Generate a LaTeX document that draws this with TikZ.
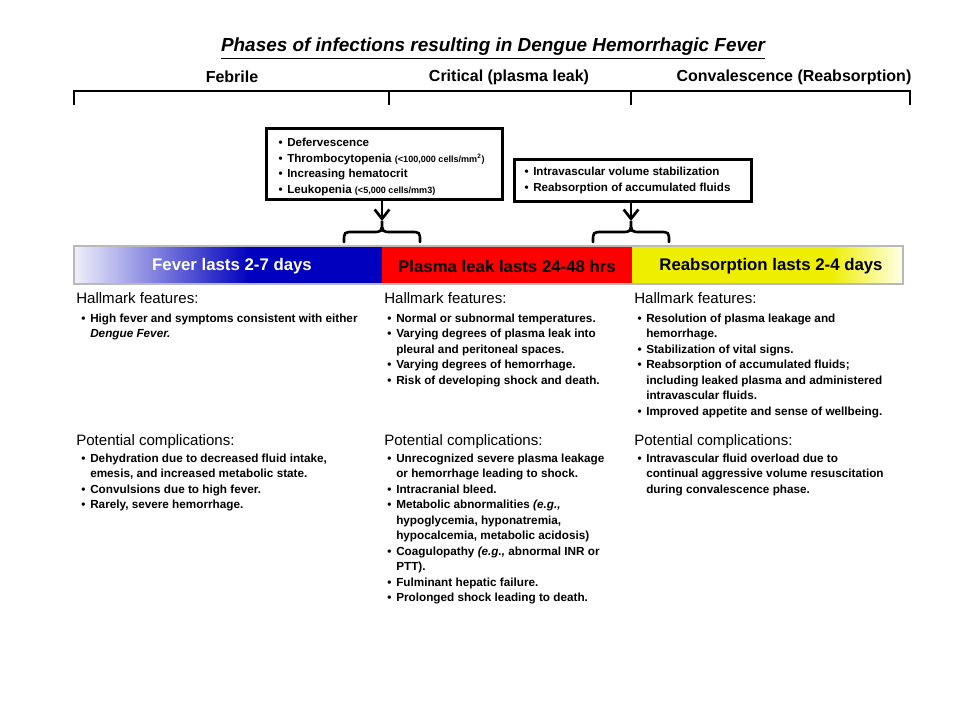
\documentclass[tikz,border=0pt]{standalone}
\usepackage{fontspec}
\setmainfont{Liberation Sans}
\usetikzlibrary{arrows.meta}
\definecolor{barblue}{RGB}{0,0,190}
\definecolor{barred}{RGB}{255,0,0}
\definecolor{baryellow}{RGB}{238,238,0}
\definecolor{barlight}{RGB}{255,255,235}
\newcommand{\bul}{\makebox[0pt][r]{\textbullet\hspace{3.5pt}}}
\newcommand{\smallnote}[1]{{\fontsize{6.8}{8}\selectfont #1}}
\newcommand{\collines}[5][txt]{\foreach \t [count=\i] in {#5} {\node[#1] (#2\i) at (#3,{#4+15.5*(\i-1)}) {\t};}}
\tikzset{
 hdr/.style={font=\fontsize{11.3}{13}\selectfont, anchor=base west, inner sep=0},
 txt/.style={font=\bfseries\fontsize{8.8}{11}\selectfont, anchor=base west, inner sep=0},
 boxtxt/.style={font=\bfseries\fontsize{8.7}{11}\selectfont, anchor=base west, inner sep=0},
 phase/.style={font=\bfseries\fontsize{12}{14}\selectfont, inner sep=0},
 bartxt/.style={font=\bfseries\fontsize{12.6}{14}\selectfont, inner sep=0},
 ttl/.style={font=\bfseries\itshape\fontsize{14.2}{16}\selectfont, inner sep=0, anchor=base},
 heavy/.style={line width=2.2pt},
 boxed/.style={draw, line width=2.2pt, anchor=north west, inner sep=0},
 arr/.style={line width=2pt, -{Straight Barb[length=7pt,width=11pt,line width=2pt]}},
 curly/.pic={\draw[line width=2pt, line cap=round] (-38,21) .. controls (-38,11) .. (-28,11) -- (-10,11) .. controls (0,11) .. (0,0) .. controls (0,11) .. (10,11) -- (28,11) .. controls (38,11) .. (38,21);},
}
\begin{document}
\begin{tikzpicture}[x=0.75pt,y=-0.75pt]
\useasboundingbox (0,0) rectangle (960,720);
\fill[white] (0,0) rectangle (960,720);

% title
\node[ttl] (title) at (493,52) {\underline{Phases of infections resulting in Dengue Hemorrhagic Fever}};

% phase labels
\node[phase] (ph1) at (232,77) {Febrile};
\node[phase] (ph2) at (509,77) {Critical (plasma leak)};
\node[phase] (ph3) at (794,77) {Convalescence (Reabsorption)};

% bracket
\draw[heavy] (74,105) -- (74,91) -- (910,91) -- (910,105);
\draw[heavy] (389,91) -- (389,105);
\draw[heavy] (631,91) -- (631,105);

% boxes
\node[boxed, minimum width=177pt, minimum height=53pt] (box1) at (265,127) {};
\collines[boxtxt]{bx}{287}{147}{{\bul Defervescence},{\bul Thrombocytopenia \smallnote{(<100,000 cells/mm\textsuperscript{2})}},{\bul Increasing hematocrit},{\bul Leukopenia \smallnote{(<5,000 cells/mm3)}}}
\node[boxed, minimum width=177.75pt, minimum height=31.5pt] (box2) at (513,158) {};
\collines[boxtxt]{by}{533}{176}{{\bul Intravascular volume stabilization},{\bul Reabsorption of accumulated fluids}}

% arrows and braces
\coordinate (t1) at (382,221);
\coordinate (t2) at (631,221);
\draw[arr] (box1.south -| t1) -- (t1);
\draw[arr] (box2.south -| t2) -- (t2);
\pic at (t1) {curly};
\pic at (t2) {curly};

% colour bar
\shade[left color=barblue!6, right color=barblue] (74,246) rectangle (250,284);
\fill[barblue] (249,246) rectangle (382,284);
\fill[barred] (382,246) rectangle (632,284);
\fill[baryellow] (632,246) rectangle (831,284);
\shade[left color=baryellow, right color=barlight] (830,246) rectangle (903,284);
\draw[gray!55, line width=1pt] (74,246) rectangle (903,284);
\node[bartxt, text=white] (bar1) at (232,266) {Fever lasts 2-7 days};
\node[bartxt] (bar2) at (507,266) {Plasma leak lasts 24-48 hrs};
\node[bartxt] (bar3) at (771,266) {Reabsorption lasts 2-4 days};

% column 1
\node[hdr] (h1) at (76,303) {Hallmark features:};
\collines{a}{90}{322}{{\bul High fever and symptoms consistent with either},{\textit{Dengue Fever.}}}
\node[hdr] (p1) at (76,445) {Potential complications:};
\collines{b}{90}{462}{{\bul Dehydration due to decreased fluid intake,},{emesis, and increased metabolic state.},{\bul Convulsions due to high fever.},{\bul Rarely, severe hemorrhage.}}

% column 2
\node[hdr] (h2) at (384,303) {Hallmark features:};
\collines{c}{396}{322}{{\bul Normal or subnormal temperatures.},{\bul Varying degrees of plasma leak into},{pleural and peritoneal spaces.},{\bul Varying degrees of hemorrhage.},{\bul Risk of developing shock and death.}}
\node[hdr] (p2) at (384,445) {Potential complications:};
\collines{d}{396}{462}{{\bul Unrecognized severe plasma leakage},{or hemorrhage leading to shock.},{\bul Intracranial bleed.},{\bul Metabolic abnormalities \textit{(e.g.,}},{hypoglycemia, hyponatremia,},{hypocalcemia, metabolic acidosis)},{\bul Coagulopathy \textit{(e.g.,} abnormal INR or},{PTT).},{\bul Fulminant hepatic failure.},{\bul Prolonged shock leading to death.}}

% column 3
\node[hdr] (h3) at (634,303) {Hallmark features:};
\collines{e}{646}{322}{{\bul Resolution of plasma leakage and},{hemorrhage.},{\bul Stabilization of vital signs.},{\bul Reabsorption of accumulated fluids;},{including leaked plasma and administered},{intravascular fluids.},{\bul Improved appetite and sense of wellbeing.}}
\node[hdr] (p3) at (634,445) {Potential complications:};
\collines{f}{646}{462}{{\bul Intravascular fluid overload due to},{continual aggressive volume resuscitation},{during convalescence phase.}}
\end{tikzpicture}
\end{document}
